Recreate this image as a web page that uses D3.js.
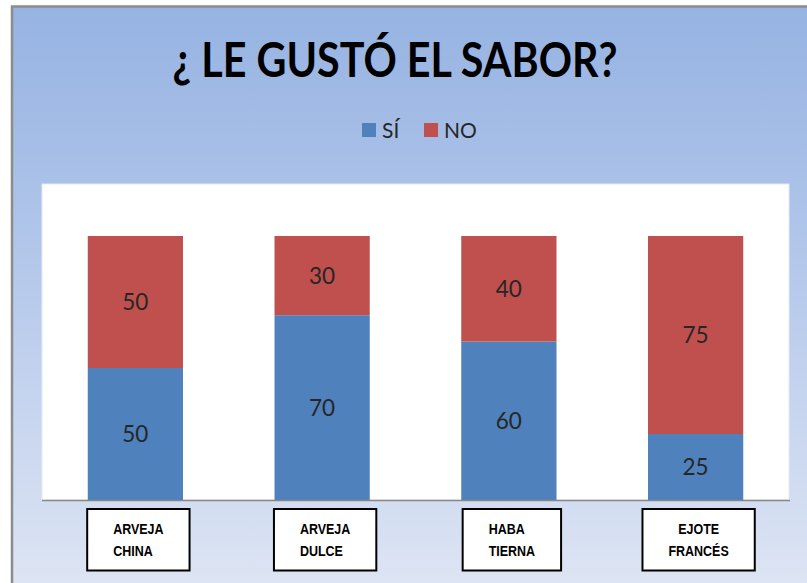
<!DOCTYPE html>
<html>
<head>
<meta charset="utf-8">
<script src="https://cdn.jsdelivr.net/npm/d3@7/dist/d3.min.js"></script>
<style>
  html, body { margin: 0; padding: 0; background: #ffffff; }
  svg { display: block; }
</style>
</head>
<body>
<svg id="chart" width="807" height="583"></svg>
<script>
// ---- data ----
const categories = ["ARVEJA CHINA", "ARVEJA DULCE", "HABA TIERNA", "EJOTE FRANCÉS"];
const categoryLines = [["ARVEJA", "CHINA"], ["ARVEJA", "DULCE"], ["HABA", "TIERNA"], ["EJOTE", "FRANCÉS"]];
const seriesNames = ["SÍ", "NO"];
const siValues = [50, 70, 60, 25];
const noValues = [50, 30, 40, 75];
const titleText = "¿ LE GUSTÓ EL SABOR?";

// ---- styles ----
const colors = { "SÍ": "#4F81BD", "NO": "#C0504D" };
const centeredLabelIndex = 3; // last category label block is centered
const labelCondense = 0.86;

const svg = d3.select("#chart");
const W = 807, H = 583;

// background gradient frame
const defs = svg.append("defs");
const grad = defs.append("linearGradient").attr("id", "bg").attr("x1", 0).attr("y1", 0).attr("x2", 0).attr("y2", 1);
grad.append("stop").attr("offset", "0%").attr("stop-color", "#96B3E2");
grad.append("stop").attr("offset", "35%").attr("stop-color", "#ADC3E9");
grad.append("stop").attr("offset", "100%").attr("stop-color", "#DEE5F4");

svg.append("rect").attr("x", 12).attr("y", 6.5).attr("width", W).attr("height", H)
  .attr("fill", "url(#bg)").attr("stroke", "#8C8C8C").attr("stroke-width", 2.5);

// plot area
const plot = { left: 42, right: 789, top: 184, bottom: 500 };
svg.append("rect").attr("x", plot.left).attr("y", plot.top)
  .attr("width", plot.right - plot.left).attr("height", plot.bottom - plot.top)
  .attr("fill", "#ffffff").attr("stroke", "#E4EAF6").attr("stroke-width", 1);

const x = d3.scaleBand().domain(categories).range([plot.left, plot.right])
  .paddingInner(0.49).paddingOuter(0.245);
const y = d3.scaleLinear().domain([0, 100]).range([plot.bottom, 236]);

// stacking
const table = categories.map((c, i) => ({ cat: c, "SÍ": siValues[i], "NO": noValues[i] }));
const stack = d3.stack().keys(seriesNames)(table);

const layers = svg.append("g").selectAll("g").data(stack).join("g")
  .attr("fill", d => colors[d.key]);
layers.selectAll("rect").data(d => d).join("rect")
  .attr("x", d => x(d.data.cat))
  .attr("width", x.bandwidth())
  .attr("y", d => y(d[1]))
  .attr("height", d => y(d[0]) - y(d[1]));

// value labels
layers.selectAll("text").data(d => d.map(v => ({ v, key: d.key }))).join("text")
  .attr("x", d => x(d.v.data.cat) + x.bandwidth() / 2)
  .attr("y", d => (y(d.v[0]) + y(d.v[1])) / 2)
  .attr("dy", "0.36em")
  .attr("text-anchor", "middle")
  .attr("font-family", "Lato, 'Open Sans', sans-serif")
  .attr("font-size", 22.5)
  .attr("fill", "#262626")
  .text(d => d.v.data[d.key]);

// axis baseline
const xAxis = d3.axisBottom(x).tickSize(0).tickFormat("");
const axG = svg.append("g").attr("transform", `translate(0,${plot.bottom})`).call(xAxis);
axG.select(".domain").attr("stroke", "#878787").attr("stroke-width", 1.5)
  .attr("d", `M${plot.left},0.5H${plot.right + 1}`);

// category label boxes
const boxes = svg.append("g").selectAll("g").data(categories).join("g");
boxes.each(function (c, i) {
  const g = d3.select(this);
  const cx = x(c) + x.bandwidth() / 2 + 3;
  const lines = categoryLines[i];
  const tmp = g.append("g");
  const texts = tmp.selectAll("text").data(lines).join("text")
    .attr("font-family", "'Liberation Sans', Arial, sans-serif")
    .attr("font-weight", "bold")
    .attr("font-size", 14.5)
    .attr("fill", "#000")
    .text(d => d);
  let maxW = 0;
  texts.each(function () {
    const L = this.getComputedTextLength() * labelCondense;
    d3.select(this).attr("textLength", L).attr("lengthAdjust", "spacingAndGlyphs");
    maxW = Math.max(maxW, L);
  });
  const bw = Math.max(97, maxW + 52);
  const left = cx - bw / 2;
  g.insert("rect", ":first-child").attr("x", left).attr("y", 509).attr("width", bw).attr("height", 61.5)
    .attr("fill", "#ffffff").attr("stroke", "#000").attr("stroke-width", 2);
  if (i === centeredLabelIndex) {
    texts.attr("x", cx).attr("text-anchor", "middle");
  } else {
    texts.attr("x", cx - maxW / 2).attr("text-anchor", "start");
  }
  texts.attr("y", (d, j) => 534 + j * 22);
});

// title
svg.append("text").attr("x", 395).attr("y", 77)
  .attr("text-anchor", "middle")
  .attr("font-family", "Lato, 'Open Sans', sans-serif")
  .attr("font-weight", "bold")
  .attr("font-size", 47)
  .attr("textLength", 445).attr("lengthAdjust", "spacingAndGlyphs")
  .attr("fill", "#000")
  .text(titleText);

// legend
const legend = svg.append("g").selectAll("g").data(seriesNames).join("g")
  .attr("transform", (d, i) => `translate(${[362, 424][i]},123)`);
legend.append("rect").attr("width", 14).attr("height", 14).attr("fill", d => colors[d]);
legend.append("text").attr("x", 20).attr("y", 14.5)
  .attr("font-family", "Lato, 'Open Sans', sans-serif")
  .attr("font-size", 21)
  .attr("fill", "#262626")
  .text(d => d);
</script>
</body>
</html>
